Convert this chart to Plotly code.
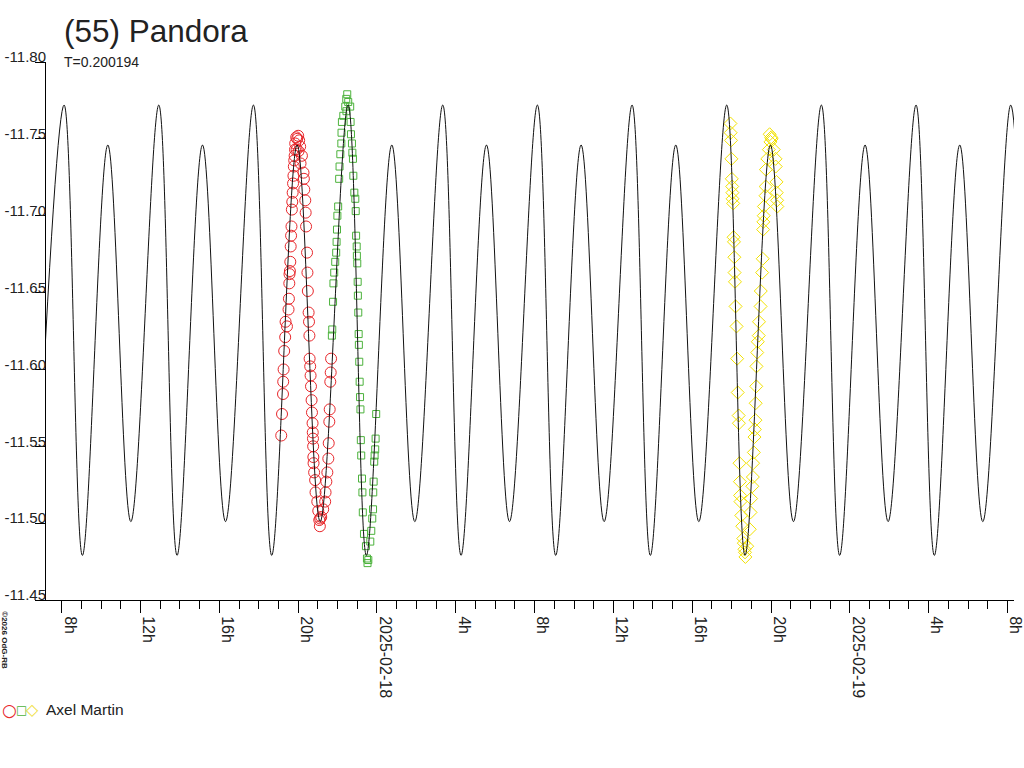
import plotly.graph_objects as go
import pandas as pd

# (55) Pandora lightcurve, times in hours after 2025-02-17 00:00 UT
T0 = pd.Timestamp("2025-02-17")

# session 1 (red circles)
red_hours = [19.14, 19.18, 19.23, 19.24, 19.26, 19.29, 19.34, 19.43, 19.36, 19.51,
             19.53, 19.55, 19.56, 19.58, 19.60, 19.62, 19.64, 19.66, 19.68, 19.70,
             19.72, 19.74, 19.76, 19.78, 19.80, 19.82, 19.84, 19.85, 19.90, 19.95,
             20.00, 20.05, 20.10, 19.92, 20.02, 20.19, 20.12, 20.27, 20.29, 20.31,
             20.36, 20.38, 20.40, 20.45, 20.47, 20.49, 20.53, 20.55, 20.57, 20.58,
             20.61, 20.63, 20.65, 20.68, 20.70, 20.73, 20.74, 20.75, 20.76, 20.77,
             20.78, 20.81, 20.86, 20.88, 20.97, 21.02, 21.12, 21.10, 21.07, 21.17,
             21.27, 21.37, 21.39, 21.43, 21.48, 21.53, 21.55, 21.58, 21.60, 21.63,
             21.65, 21.67]
red_mag = [-11.557, -11.571, -11.584, -11.592, -11.600, -11.612, -11.621, -11.628, -11.631, -11.639,
           -11.646, -11.656, -11.662, -11.664, -11.670, -11.680, -11.687, -11.693, -11.704, -11.709,
           -11.715, -11.721, -11.726, -11.732, -11.736, -11.739, -11.743, -11.747, -11.751, -11.750,
           -11.752, -11.749, -11.745, -11.743, -11.742, -11.739, -11.734, -11.728, -11.724, -11.717,
           -11.710, -11.702, -11.693, -11.676, -11.663, -11.651, -11.637, -11.631, -11.622, -11.607,
           -11.602, -11.596, -11.589, -11.580, -11.572, -11.565, -11.559, -11.555, -11.550, -11.543,
           -11.539, -11.533, -11.528, -11.520, -11.514, -11.508, -11.503, -11.498, -11.502, -11.504,
           -11.509, -11.514, -11.520, -11.527, -11.533, -11.542, -11.552, -11.566, -11.574, -11.592,
           -11.598, -11.607]

# session 2 (green squares)
green_hours = [21.71, 21.73, 21.77, 21.79, 21.83, 21.88, 21.93, 21.95, 21.97, 21.99,
               22.03, 22.08, 22.10, 22.14, 22.19, 22.20, 22.22, 22.29, 22.39, 22.44,
               22.49, 22.45, 22.54, 22.64, 22.66, 22.68, 22.73, 22.75, 22.78, 22.80,
               22.85, 22.90, 22.92, 22.94, 22.97, 22.98, 23.00, 23.02, 23.03, 23.05,
               23.07, 23.08, 23.10, 23.12, 23.14, 23.16, 23.18, 23.20, 23.24, 23.26,
               23.28, 23.34, 23.44, 23.49, 23.52, 23.56, 23.66, 23.71, 23.76, 23.80,
               23.81, 23.83, 23.86, 23.88, 23.91, 23.93, 23.96]
green_mag = [-11.622, -11.626, -11.644, -11.656, -11.663, -11.670, -11.676, -11.683, -11.691, -11.700,
             -11.706, -11.724, -11.732, -11.740, -11.747, -11.754, -11.761, -11.765, -11.771, -11.776,
             -11.779, -11.768, -11.774, -11.771, -11.761, -11.753, -11.747, -11.741, -11.737, -11.726,
             -11.715, -11.711, -11.703, -11.687, -11.680, -11.674, -11.669, -11.657, -11.648, -11.637,
             -11.623, -11.616, -11.605, -11.592, -11.582, -11.574, -11.554, -11.544, -11.529, -11.520,
             -11.507, -11.493, -11.485, -11.477, -11.474, -11.476, -11.488, -11.495, -11.503, -11.509,
             -11.520, -11.527, -11.540, -11.544, -11.548, -11.555, -11.571]

# session 3 (yellow diamonds)
yellow_hours = [41.94, 41.95, 41.97, 41.99, 42.01, 42.03, 42.04, 42.05, 42.08, 42.10,
                42.12, 42.14, 42.15, 42.17, 42.20, 42.25, 42.28, 42.31, 42.36, 42.37,
                42.40, 42.42, 42.43, 42.45, 42.49, 42.54, 42.59, 42.62, 42.65, 42.68,
                42.70, 42.79, 42.92, 42.96, 42.99, 43.05, 43.08, 43.09, 43.13, 43.16,
                43.18, 43.21, 43.22, 43.25, 43.26, 43.30, 43.33, 43.38, 43.39, 43.47,
                43.48, 43.55, 43.58, 43.60, 43.61, 43.63, 43.64, 43.72, 43.73, 43.74,
                43.81, 43.89, 43.93, 43.97, 44.01, 44.03, 44.14, 44.23, 44.24, 44.28,
                44.29, 44.31, 44.32]
yellow_mag = [-11.760, -11.754, -11.749, -11.737, -11.724, -11.719, -11.715, -11.711, -11.708, -11.686,
              -11.683, -11.673, -11.663, -11.657, -11.641, -11.628, -11.607, -11.585, -11.570, -11.565,
              -11.539, -11.527, -11.518, -11.514, -11.505, -11.498, -11.490, -11.487, -11.483, -11.481,
              -11.478, -11.485, -11.496, -11.507, -11.516, -11.524, -11.530, -11.539, -11.546, -11.556,
              -11.561, -11.567, -11.578, -11.589, -11.602, -11.611, -11.618, -11.622, -11.631, -11.641,
              -11.651, -11.663, -11.672, -11.691, -11.696, -11.700, -11.706, -11.713, -11.719, -11.730,
              -11.737, -11.743, -11.753, -11.748, -11.751, -11.750, -11.743, -11.737, -11.732, -11.722,
              -11.715, -11.710, -11.706]

# fitted curve: turning points
model_hours = [6.702,
               8.119, 9.048, 10.338, 11.506, 12.924, 13.853, 15.143, 16.311,
               17.728, 18.657, 19.947, 21.115, 22.533, 23.462, 24.752, 25.920,
               27.338, 28.267, 29.557, 30.725, 32.142, 33.071, 34.361, 35.529,
               36.947, 37.876, 39.166, 40.334, 41.752, 42.681, 43.971, 45.139,
               46.556, 47.485, 48.775, 49.943, 51.361, 52.290, 53.580, 54.748,
               56.166, 57.095]
model_mag = [-11.501,
             -11.772, -11.479, -11.746, -11.501, -11.772, -11.479, -11.746, -11.501,
             -11.772, -11.479, -11.746, -11.501, -11.772, -11.479, -11.746, -11.501,
             -11.772, -11.479, -11.746, -11.501, -11.772, -11.479, -11.746, -11.501,
             -11.772, -11.479, -11.746, -11.501, -11.772, -11.479, -11.746, -11.501,
             -11.772, -11.479, -11.746, -11.501, -11.772, -11.479, -11.746, -11.501,
             -11.772, -11.479]

x_tick_text = ["8h", "12h", "16h", "20h", "2025-02-18", "4h", "8h", "12h", "16h", "20h",
               "2025-02-19", "4h", "8h"]
y_tick_vals = [-11.80, -11.75, -11.70, -11.65, -11.60, -11.55, -11.50, -11.45]
y_tick_text = ["-11.80", "-11.75", "-11.70", "-11.65", "-11.60", "-11.55", "-11.50", "-11.45"]


def to_time(hours):
    return T0 + pd.to_timedelta(hours, unit="h")


FONT = "Liberation Sans, Arial, sans-serif"

fig = go.Figure()
fig.add_trace(go.Scatter(x=to_time(red_hours), y=red_mag, mode="markers",
                         marker=dict(symbol="circle-open", size=11, color="#e8262a",
                                     line=dict(width=1))))
fig.add_trace(go.Scatter(x=to_time(green_hours), y=green_mag, mode="markers",
                         marker=dict(symbol="square-open", size=7, color="#4cb23c",
                                     line=dict(width=1))))
fig.add_trace(go.Scatter(x=to_time(yellow_hours), y=yellow_mag, mode="markers",
                         marker=dict(symbol="diamond-open", size=10, color="#f2e200",
                                     line=dict(width=1))))
fig.add_trace(go.Scatter(x=to_time(model_hours), y=model_mag, mode="lines",
                         line=dict(color="#111111", width=1, shape="spline", smoothing=1.0)))

tick_vals = pd.date_range("2025-02-17 08:00", periods=len(x_tick_text), freq="4h")

fig.update_xaxes(
    type="date",
    range=["2025-02-17 07:12", "2025-02-19 08:20"],
    tickmode="array", tickvals=tick_vals, ticktext=x_tick_text,
    tickangle=90, ticks="outside", ticklen=12, tickcolor="black",
    ticklabelshift=8, ticklabeloverflow="allow",
    tickfont=dict(family=FONT, size=16, color="#222"),
    minor=dict(ticks="outside", ticklen=8, tickcolor="black",
               dtick=3600000, tick0="2025-02-17", showgrid=False),
    showline=True, linecolor="black", linewidth=1,
    showgrid=False, zeroline=False, automargin=False,
)
fig.update_yaxes(
    range=[-11.45, -11.80],
    tickmode="array", tickvals=y_tick_vals, ticktext=y_tick_text,
    ticks="outside", ticklen=10, tickcolor="black",
    ticklabelposition="outside top", ticklabelstandoff=-4, ticklabelshift=-6,
    ticklabeloverflow="allow",
    tickfont=dict(family=FONT, size=15, color="#222"),
    showline=True, linecolor="black", linewidth=1,
    showgrid=False, zeroline=False, automargin=False,
)

LEG_Y = (600 - 710) / 538
annotations = [
    dict(text="(55) Pandora", xref="paper", yref="paper", x=(62 - 46) / 968, y=1.0576,
         xanchor="left", yanchor="middle", showarrow=False,
         font=dict(family=FONT, size=31.5, color="#222")),
    dict(text="T=0.200194", xref="paper", yref="paper", x=(62 - 46) / 968, y=1.0,
         xanchor="left", yanchor="middle", showarrow=False,
         font=dict(family=FONT, size=14, color="#222")),
    dict(text="<b>©2026 OdG-RB</b>", xref="paper", yref="paper", x=-0.0437, y=-0.0743,
         xanchor="center", yanchor="middle", showarrow=False, textangle=90,
         font=dict(family=FONT, size=8, color="#222")),
    dict(text="○", xref="paper", yref="paper", x=(9 - 46) / 968, y=LEG_Y,
         xanchor="center", yanchor="middle", showarrow=False,
         font=dict(family="DejaVu Sans", size=17, color="#e8262a")),
    dict(text="□", xref="paper", yref="paper", x=(21 - 46) / 968, y=LEG_Y,
         xanchor="center", yanchor="middle", showarrow=False,
         font=dict(family="DejaVu Sans", size=12, color="#4cb23c")),
    dict(text="◇", xref="paper", yref="paper", x=(32 - 46) / 968, y=LEG_Y,
         xanchor="center", yanchor="middle", showarrow=False,
         font=dict(family="DejaVu Sans", size=16, color="#f0e040")),
    dict(text="Axel Martin", xref="paper", yref="paper", x=(44 - 46) / 968, y=LEG_Y,
         xanchor="left", yanchor="middle", showarrow=False,
         font=dict(family=FONT, size=15.5, color="#222")),
]

fig.update_layout(
    width=1024, height=768,
    margin=dict(l=46, r=10, t=62, b=168),
    paper_bgcolor="white", plot_bgcolor="white",
    showlegend=False,
    annotations=annotations,
)

# the page itself must not add the browser's default 8px body margin
fig.write_html("out.html", config={"displayModeBar": False},
               post_script="document.body.style.margin = '0';")
